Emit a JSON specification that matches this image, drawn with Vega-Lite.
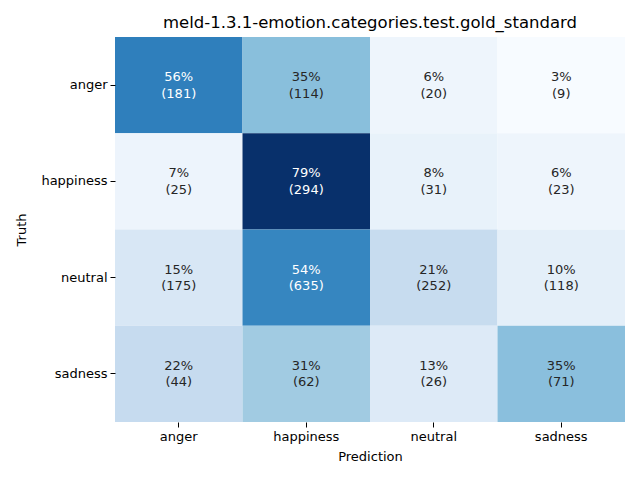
{
  "$schema": "https://vega.github.io/schema/vega-lite/v6.json",
  "width": 510,
  "height": 385,
  "autosize": {"type": "none"},
  "padding": {"left": 115, "top": 37, "right": 15, "bottom": 58},
  "background": "white",
  "config": {
    "font": "DejaVu Sans",
    "view": {"stroke": null},
    "axis": {"labelFont": "DejaVu Sans", "titleFont": "DejaVu Sans", "labelFontSize": 13, "titleFontSize": 13, "titleFontWeight": "normal", "labelColor": "#000", "titleColor": "#000", "domain": false, "grid": false, "tickColor": "#000", "tickSize": 5, "tickWidth": 1}
  },
  "title": {"text": "meld-1.3.1-emotion.categories.test.gold_standard", "font": "DejaVu Sans", "fontSize": 16.5, "fontWeight": "normal", "color": "#000", "offset": 6},
  "data": {
    "values": [
      {"truth": "anger", "pred": "anger", "count": 181, "pct": 0.5586},
      {"truth": "anger", "pred": "happiness", "count": 114, "pct": 0.3519},
      {"truth": "anger", "pred": "neutral", "count": 20, "pct": 0.0617},
      {"truth": "anger", "pred": "sadness", "count": 9, "pct": 0.0278},
      {"truth": "happiness", "pred": "anger", "count": 25, "pct": 0.0670},
      {"truth": "happiness", "pred": "happiness", "count": 294, "pct": 0.7882},
      {"truth": "happiness", "pred": "neutral", "count": 31, "pct": 0.0831},
      {"truth": "happiness", "pred": "sadness", "count": 23, "pct": 0.0617},
      {"truth": "neutral", "pred": "anger", "count": 175, "pct": 0.1483},
      {"truth": "neutral", "pred": "happiness", "count": 635, "pct": 0.5381},
      {"truth": "neutral", "pred": "neutral", "count": 252, "pct": 0.2136},
      {"truth": "neutral", "pred": "sadness", "count": 118, "pct": 0.1000},
      {"truth": "sadness", "pred": "anger", "count": 44, "pct": 0.2167},
      {"truth": "sadness", "pred": "happiness", "count": 62, "pct": 0.3054},
      {"truth": "sadness", "pred": "neutral", "count": 26, "pct": 0.1281},
      {"truth": "sadness", "pred": "sadness", "count": 71, "pct": 0.3498}
    ]
  },
  "transform": [
    {"calculate": "format(datum.pct, '.0%') + '\\n(' + datum.count + ')'", "as": "label"}
  ],
  "encoding": {
    "x": {"field": "pred", "type": "nominal", "title": "Prediction", "sort": ["anger", "happiness", "neutral", "sadness"], "scale": {"paddingInner": 0, "paddingOuter": 0}, "axis": {"labelAngle": 0, "labelPadding": 3, "titlePadding": 7}},
    "y": {"field": "truth", "type": "nominal", "title": "Truth", "sort": ["anger", "happiness", "neutral", "sadness"], "scale": {"paddingInner": 0, "paddingOuter": 0}, "axis": {"labelPadding": 3, "titlePadding": 12}}
  },
  "layer": [
    {
      "mark": {"type": "rect"},
      "encoding": {
        "color": {"field": "pct", "type": "quantitative", "legend": null, "scale": {"domain": [0.0278, 0.7882], "range": ["#f7fbff", "#deebf7", "#c6dbef", "#9ecae1", "#6baed6", "#4292c6", "#2171b5", "#08519c", "#08306b"], "interpolate": "rgb"}}
      }
    },
    {
      "mark": {"type": "text", "lineBreak": "\n", "fontSize": 13, "font": "DejaVu Sans", "baseline": "middle", "lineHeight": 16.5, "dy": -8},
      "encoding": {
        "text": {"field": "label"},
        "color": {"condition": {"test": "datum.pct > 0.45", "value": "white"}, "value": "#262626"}
      }
    }
  ]
}
